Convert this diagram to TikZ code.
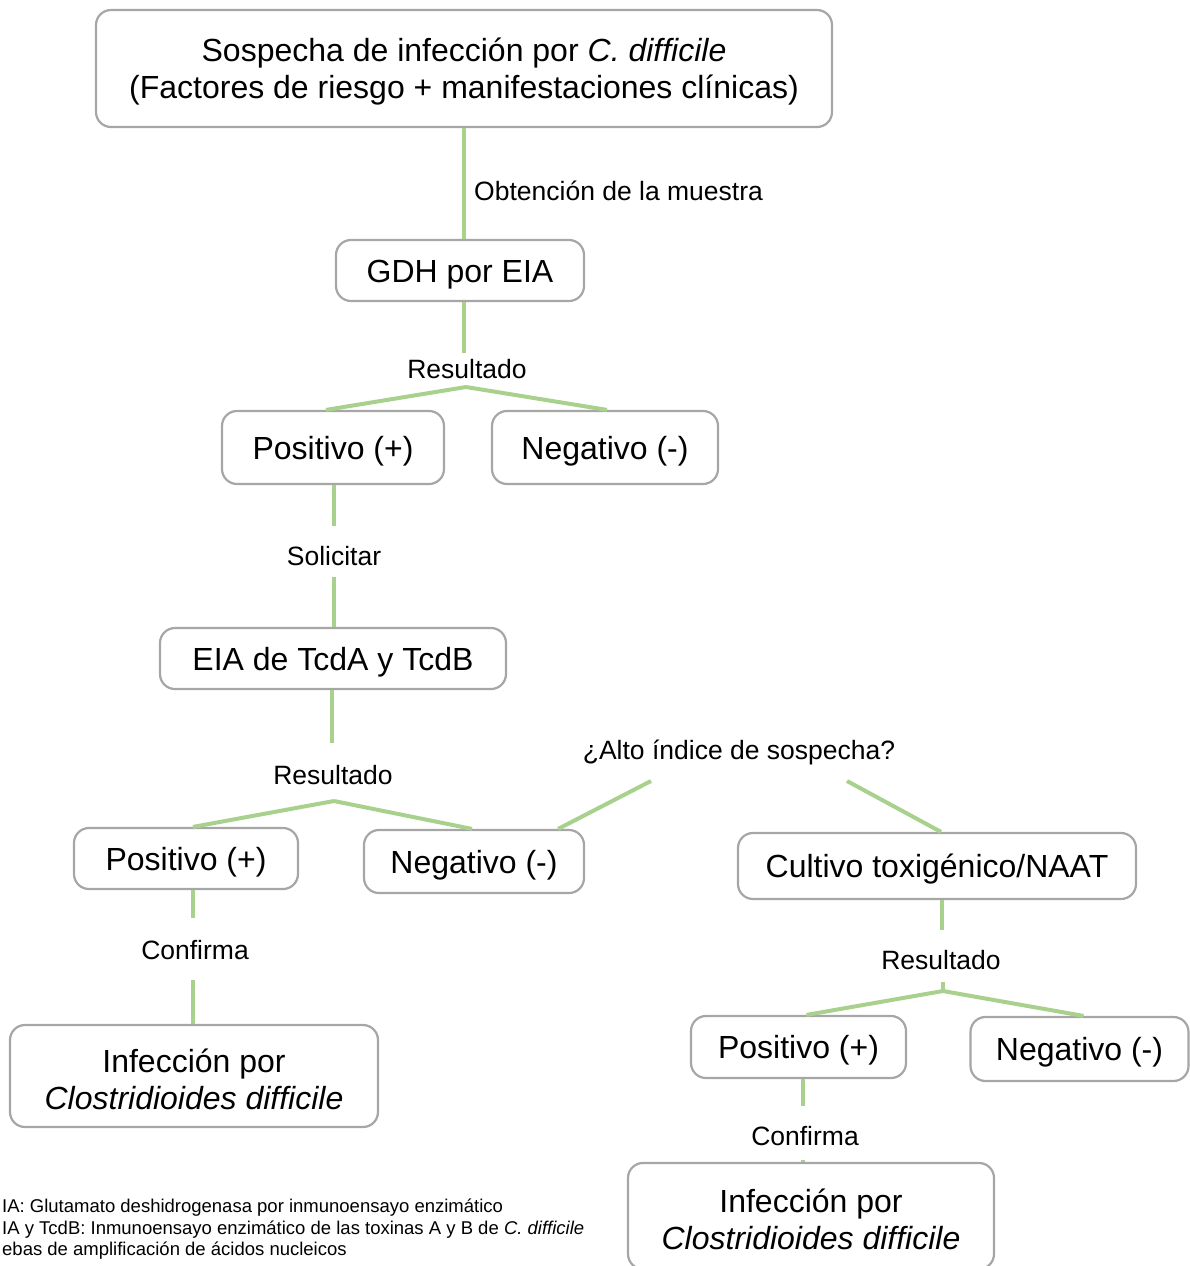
\documentclass[tikz,border=0pt]{standalone}
\usepackage{fontspec}
\setmainfont{Liberation Sans}
\usetikzlibrary{calc}
\definecolor{lgreen}{RGB}{169,209,142}
\definecolor{bgray}{RGB}{166,166,166}
\tikzset{
  box/.style={draw=bgray, line width=2.2pt, rounded corners=15pt, align=center, inner sep=0pt,
    font=\fontsize{32}{37}\selectfont},
  onebox/.style={box, text height=23.5pt, text depth=0pt},
  conn/.style={draw=lgreen, line width=4pt},
  lbl/.style={inner sep=0pt, font=\fontsize{26.5}{30}\selectfont},
  foot/.style={inner sep=0pt, align=left, font=\fontsize{18.5}{21.5}\selectfont}
}
\newcommand{\topstrut}{\rule{0pt}{30.5pt}}
\begin{document}
\begin{tikzpicture}[x=1pt,y=-1pt]
\useasboundingbox (0,0) rectangle (1189,1266);
% boxes
\node[box, minimum width=736pt, minimum height=117pt] (top) at (464,68.5)
  {\topstrut Sospecha de infección por \textit{C. difficile}\\(Factores de riesgo + manifestaciones clínicas)};
\node[onebox, minimum width=248pt, minimum height=61pt] (gdh) at (460,270.5) {GDH por EIA};
\node[onebox, minimum width=222pt, minimum height=73pt] (pos1) at (333,447.5) {Positivo (+)};
\node[onebox, minimum width=226pt, minimum height=73pt] (neg1) at (605,447.5) {Negativo (-)};
\node[onebox, minimum width=346pt, minimum height=61pt] (eia) at (333,658.5) {EIA de TcdA y TcdB};
\node[onebox, minimum width=224pt, minimum height=61pt] (pos2) at (186,858.5) {Positivo (+)};
\node[onebox, minimum width=220pt, minimum height=63pt] (neg2) at (474,861.5) {Negativo (-)};
\node[onebox, minimum width=398pt, minimum height=66pt] (cult) at (937,866) {Cultivo toxigénico/NAAT};
\node[box, minimum width=368pt, minimum height=102pt] (inf1) at (194,1076) {\topstrut Infección por\\\textit{Clostridioides difficile}};
\node[onebox, minimum width=215pt, minimum height=62pt] (pos3) at (798.5,1047) {Positivo (+)};
\node[onebox, minimum width=218pt, minimum height=64pt] (neg3) at (1079.5,1049) {Negativo (-)};
\node[box, minimum width=366pt, minimum height=106pt] (inf2) at (811,1216) {\topstrut Infección por\\\textit{Clostridioides difficile}};
% labels
\node[lbl, anchor=west] (obt) at (474,191) {Obtención de la muestra};
\node[lbl] (res1) at (467,369) {Resultado};
\node[lbl] (sol) at (334,556) {Solicitar};
\node[lbl] (res2) at (333,775) {Resultado};
\node[lbl] (alto) at (739,752) {¿Alto índice de sospecha?};
\node[lbl] (conf1) at (195,950) {Confirma};
\node[lbl] (res3) at (941,960) {Resultado};
\node[lbl] (conf2) at (805,1136) {Confirma};
% connector coordinates
\coordinate (r1a) at (464,353);
\coordinate (j1) at (466,387);
\coordinate (s1a) at (334,526);
\coordinate (s1b) at (334,577);
\coordinate (r2a) at (332,743);
\coordinate (j2) at (334,801);
\coordinate (a1) at (651,781);
\coordinate (a2) at (847,781);
\coordinate (c1a) at (193,918);
\coordinate (c1b) at (193,980);
\coordinate (r3a) at (942,930);
\coordinate (r3b) at (943,982);
\coordinate (j3) at (943,991);
\coordinate (c2a) at (803,1106);
\coordinate (c2b) at (803,1160);
% connectors
\draw[conn] (top.south -| r1a) -- (gdh.north -| r1a);
\draw[conn] (gdh.south -| r1a) -- (r1a);
\draw[conn] (j1) -- ($(pos1.north)+(-7,0)$);
\draw[conn] (j1) -- ($(neg1.north)+(2,0)$);
\draw[conn] (pos1.south -| s1a) -- (s1a);
\draw[conn] (s1b) -- (eia.north -| s1b);
\draw[conn] (eia.south -| r2a) -- (r2a);
\draw[conn] (j2) -- ($(pos2.north)+(7,0)$);
\draw[conn] (j2) -- ($(neg2.north)+(-2,0)$);
\draw[conn] (a1) -- ($(neg2.north east)+(-27,0)$);
\draw[conn] (a2) -- ($(cult.north)+(4,0)$);
\draw[conn] (pos2.south -| c1a) -- (c1a);
\draw[conn] (c1b) -- (inf1.north -| c1b);
\draw[conn] (cult.south -| r3a) -- (r3a);
\draw[conn] (r3b) -- (j3);
\draw[conn] (j3) -- ($(pos3.north)+(8,0)$);
\draw[conn] (j3) -- ($(neg3.north)+(4,0)$);
\draw[conn] (pos3.south -| c2a) -- (c2a);
\draw[conn] (c2b) -- (inf2.north -| c2b);
% footnote
\node[foot, anchor=north west] (fn) at (2,1199)
  {IA: Glutamato deshidrogenasa por inmunoensayo enzimático\\
   IA y TcdB: Inmunoensayo enzimático de las toxinas A y B de \textit{C. difficile}\\
   ebas de amplificación de ácidos nucleicos};
\end{tikzpicture}
\end{document}
